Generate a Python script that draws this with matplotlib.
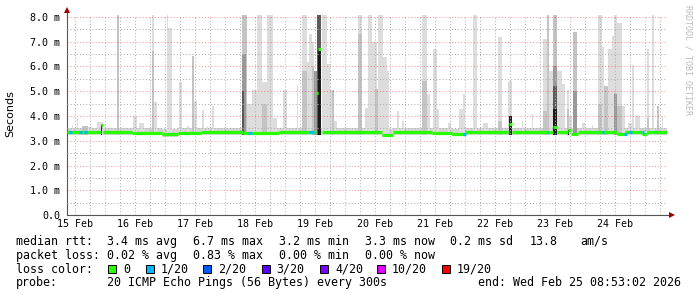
import numpy as np
import matplotlib
matplotlib.use("Agg")
import matplotlib.pyplot as plt
from matplotlib.patches import Rectangle

W, H = 697, 297

# ---- data (x = day of February, y = ms) ----
t_start = 15.3702
t_end = 25.3702

day_ticks = [15, 16, 17, 18, 19, 20, 21, 22, 23, 24]
day_labels = ["15 Feb", "16 Feb", "17 Feb", "18 Feb", "19 Feb",
              "20 Feb", "21 Feb", "22 Feb", "23 Feb", "24 Feb"]
y_ticks = [0, 1, 2, 3, 4, 5, 6, 7, 8]
y_labels = ["0.0", "1.0 m", "2.0 m", "3.0 m", "4.0 m",
            "5.0 m", "6.0 m", "7.0 m", "8.0 m"]

# smoke spikes: (start day, end day, top ms), one list per grey shade
smoke_light = [
    (15.448, 15.476, 3.62), (15.531, 15.559, 3.88), (15.726, 15.781, 3.55),
    (15.865, 15.976, 3.75), (16.476, 16.531, 3.99), (16.570, 16.654, 3.70),
    (16.781, 16.826, 8.10), (16.826, 16.876, 4.55), (17.031, 17.059, 8.10),
    (17.059, 17.115, 7.56), (17.237, 17.281, 5.37), (17.376, 17.409, 3.60),
    (17.487, 17.531, 4.62), (17.615, 17.648, 4.26), (17.698, 17.726, 3.60),
    (17.781, 17.820, 4.42), (18.376, 18.448, 4.50), (18.448, 18.531, 5.05),
    (18.531, 18.615, 8.10), (18.615, 18.698, 5.37), (18.698, 18.809, 8.10),
    (18.809, 18.865, 3.90), (18.976, 19.031, 5.05), (19.198, 19.226, 5.20),
    (19.281, 19.365, 8.10), (19.365, 19.404, 6.20), (19.404, 19.448, 7.30),
    (19.448, 19.493, 6.97), (19.615, 19.698, 8.10), (19.698, 19.754, 6.10),
    (19.754, 19.815, 5.05), (19.815, 19.865, 3.80), (20.226, 20.281, 8.10),
    (20.337, 20.381, 4.32), (20.381, 20.448, 8.10), (20.448, 20.531, 7.00),
    (20.559, 20.643, 8.10), (20.643, 20.698, 6.40), (20.698, 20.737, 5.80),
    (20.865, 20.904, 4.20), (20.959, 20.993, 3.80), (21.281, 21.365, 8.10),
    (21.365, 21.420, 4.90), (21.476, 21.531, 6.70), (21.531, 21.570, 4.30),
    (21.726, 21.770, 3.70), (21.909, 21.965, 4.30), (21.965, 22.004, 4.90),
    (22.143, 22.198, 8.10), (22.309, 22.392, 3.70), (22.559, 22.615, 7.20),
    (22.726, 22.781, 5.40), (22.948, 22.976, 3.80), (23.115, 23.143, 4.10),
    (23.309, 23.365, 7.10), (23.409, 23.476, 5.80), (23.531, 23.615, 5.80),
    (23.615, 23.670, 5.30), (23.698, 23.737, 5.05), (23.737, 23.781, 4.00),
    (23.948, 24.004, 3.70), (24.115, 24.143, 3.65), (24.226, 24.281, 8.10),
    (24.281, 24.326, 6.80), (24.326, 24.381, 5.20), (24.392, 24.448, 6.70),
    (24.448, 24.487, 7.24), (24.487, 24.531, 8.10), (24.531, 24.615, 7.76),
    (24.615, 24.670, 4.40), (24.726, 24.781, 3.70), (24.781, 24.815, 6.07),
    (24.837, 24.920, 4.00), (25.031, 25.070, 6.70), (25.115, 25.159, 8.10),
    (25.281, 25.309, 4.00),
]
smoke_mid = [
    (15.615, 15.715, 3.60), (16.198, 16.237, 8.10), (16.781, 16.826, 6.64),
    (17.448, 17.487, 6.44), (18.281, 18.376, 8.10), (18.615, 18.698, 4.50),
    (19.281, 19.365, 5.80), (19.448, 19.493, 6.00), (19.782, 19.815, 5.05),
    (20.226, 20.281, 7.30), (20.504, 20.559, 5.10), (21.281, 21.365, 5.40),
    (22.559, 22.615, 3.80), (23.309, 23.365, 4.20), (23.365, 23.409, 8.10),
    (23.476, 23.531, 8.10), (23.698, 23.737, 4.30), (23.809, 23.865, 7.40),
    (24.226, 24.281, 4.50), (24.326, 24.381, 5.20), (24.531, 24.615, 4.40),
    (25.031, 25.070, 3.90), (25.198, 25.237, 4.40),
]
smoke_dark = [
    (18.281, 18.348, 6.50), (19.493, 19.531, 5.80), (23.476, 23.531, 6.00),
    (23.809, 23.865, 5.00), (24.487, 24.531, 4.90),
]
smoke_darker = [
    (18.281, 18.320, 5.00), (19.531, 19.604, 8.10), (23.476, 23.531, 5.20),
]
smoke_core = [
    (15.937, 15.948, 3.62), (19.559, 19.604, 6.70), (22.743, 22.781, 4.00),
    (23.476, 23.531, 4.30), (23.726, 23.737, 3.45),
]

# thin smoke band around the median
band_t = [15.370, 16.948, 17.226, 20.615, 20.808, 21.781, 22.004, 25.370]
band_lo = [3.22, 3.17, 3.22, 3.15, 3.22, 3.18, 3.22, 3.22]
band_hi = [3.52, 3.48, 3.50, 3.46, 3.50, 3.46, 3.50, 3.50]

# median rtt (step values, nan = no data)
med_t = [15.370, 15.937, 15.976, 16.450, 16.948, 17.226, 17.600, 18.300,
         18.900, 19.520, 19.559, 19.604, 19.620, 20.615, 20.808, 21.450,
         21.781, 22.004, 22.737, 22.781, 23.476, 23.531, 23.726, 23.770,
         23.890, 24.531, 24.670, 24.950, 25.031, 25.370]
med_v = [3.36, 3.62, 3.34, 3.33, 3.26, 3.33, 3.34, 3.33,
         3.34, 4.93, 6.72, np.nan, 3.34, 3.25, 3.34, 3.33,
         3.27, 3.34, 3.68, 3.34, 3.55, 3.34, 3.44, 3.29,
         3.34, 3.28, 3.34, 3.28, 3.34, 3.34]

# intervals with 1/20 packet loss
loss1_t0 = [15.404, 15.570, 15.654, 18.393, 19.409, 21.976,
            23.365, 24.293, 24.659, 24.737, 24.948]
loss1_t1 = [15.448, 15.615, 15.698, 18.448, 19.487, 22.020,
            23.392, 24.326, 24.698, 24.781, 24.993]

loss_labels = ["0", "1/20", "2/20", "3/20", "4/20", "10/20", "19/20"]
loss_colors = ["#26ff00", "#00b8ff", "#0059ff", "#5e00ff",
               "#7e00ff", "#dd00ff", "#ff0000"]

rtt_stats = ["3.4 ms avg", "6.7 ms max", "3.2 ms min", "3.3 ms now",
             "0.2 ms sd", "13.8", "am/s"]
pl_stats = ["0.02 % avg", "0.83 % max", "0.00 % min", "0.00 % now"]
probe_text = "20 ICMP Echo Pings (56 Bytes) every 300s"
end_text = "end: Wed Feb 25 08:53:02 2026"

# ---- drawing ----
MONO = "DejaVu Sans Mono"


def px(x, y):
    return x / W, 1 - y / H


fig = plt.figure(figsize=(W / 100, H / 100), dpi=100)
fig.patch.set_facecolor("white")
ax = fig.add_axes([67 / W, (H - 215) / H, 600 / W, 200 / H])
ax.set_xlim(t_start, t_end)
ax.set_ylim(0, 200 / 24.75)

ax.fill_between(band_t, band_lo, band_hi, step="post",
                color="#d4d4d4", lw=0, zorder=1)

base = 3.25
for spikes, col in [(smoke_light, "#dddddd"), (smoke_mid, "#c4c4c4"),
                    (smoke_dark, "#999999"), (smoke_darker, "#5a5a5a"),
                    (smoke_core, "#1a1a1a")]:
    s = np.array(spikes)
    ax.bar(s[:, 0], s[:, 2] - base, width=s[:, 1] - s[:, 0], bottom=base,
           align="edge", color=col, lw=0, zorder=2)

# grid
for d in np.arange(15.25, t_end, 0.25):
    if d < t_start:
        continue
    if abs(d - round(d)) < 1e-6:
        ax.axvline(d, color="#ff0000", alpha=0.4, lw=0.75,
                   ls=(0, (1, 2)), zorder=3)
    else:
        ax.axvline(d, color="#b0b0b0", lw=0.75, ls=(0, (1, 2)), zorder=3)
for v in np.arange(0.5, 8.1, 0.5):
    if abs(v - round(v)) < 1e-6:
        ax.axhline(v, color="#ff0000", alpha=0.4, lw=0.75,
                   ls=(0, (1, 2)), zorder=3)
    else:
        ax.axhline(v, color="#b0b0b0", lw=0.75, ls=(0, (1, 2)), zorder=3)

# median line, coloured by loss
mt = np.array(med_t)
mv = np.array(med_v)
ax.hlines(mv[:-1], mt[:-1], mt[1:], color=loss_colors[0], lw=2.3, zorder=4)
for a, b in zip(loss1_t0, loss1_t1):
    v = mv[np.searchsorted(mt, a, side="right") - 1]
    ax.hlines(v, a, b, color=loss_colors[1], lw=2.3, zorder=5)

# axes look
for s in ["top", "right"]:
    ax.spines[s].set_visible(False)
for s in ["left", "bottom"]:
    ax.spines[s].set_color("#555555")
    ax.spines[s].set_linewidth(0.8)
ax.plot([0, 0], [1, 1.025], color="#555555", lw=0.8,
        transform=ax.transAxes, clip_on=False)
ax.plot([1, 1.008], [0, 0], color="#555555", lw=0.8,
        transform=ax.transAxes, clip_on=False)
ax.plot([0], [1.025], marker="^", ms=4, color="#a00000", mew=0,
        transform=ax.transAxes, clip_on=False)
ax.plot([1.008], [0], marker=">", ms=4, color="#a00000", mew=0,
        transform=ax.transAxes, clip_on=False)

ax.set_xticks([d + 0.5 for d in day_ticks], day_labels)
ax.set_yticks(y_ticks, y_labels)
ax.tick_params(length=0, labelsize=7.2)
ax.tick_params(axis="x", pad=3)
ax.tick_params(axis="y", pad=5)
for lab in ax.get_xticklabels() + ax.get_yticklabels():
    lab.set_family(MONO)

fig.text(*px(10, 114), "Seconds", rotation=90, ha="center", va="center",
         family="DejaVu Sans", fontsize=8)
fig.text(*px(688, 5), "RRDTOOL / TOBI OETIKER", rotation=270,
         ha="center", va="top", family=MONO, fontsize=6, color="#bbbbbb")

# legend block
fs = 8.4
y1, y2, y3, y4 = 245, 258.8, 272.6, 286.4
fig.text(*px(16, y1), "median rtt:", family=MONO, fontsize=fs, va="baseline")
for x, s in zip([107, 193, 279, 365, 450, 530, 580], rtt_stats):
    fig.text(*px(x, y1), s, family=MONO, fontsize=fs, va="baseline")
fig.text(*px(16, y2), "packet loss:", family=MONO, fontsize=fs, va="baseline")
for x, s in zip([107, 193, 279, 365], pl_stats):
    fig.text(*px(x, y2), s, family=MONO, fontsize=fs, va="baseline")
fig.text(*px(16, y3), "loss color:", family=MONO, fontsize=fs, va="baseline")
box_x = [108, 145.7, 203.3, 261.7, 320, 376.7, 441.7]
for x, lab, col in zip(box_x, loss_labels, loss_colors):
    fig.add_artist(Rectangle(px(x, y3 + 0.5), 8 / W, 8 / H,
                             transform=fig.transFigure, facecolor=col,
                             edgecolor="black", lw=0.7))
    fig.text(*px(x + 15, y3), lab, family=MONO, fontsize=fs, va="baseline")
fig.text(*px(16, y4), "probe:", family=MONO, fontsize=fs, va="baseline")
fig.text(*px(107, y4), probe_text, family=MONO, fontsize=fs, va="baseline")
fig.text(*px(478, y4), end_text, family=MONO, fontsize=fs, va="baseline")

fig.savefig("out.png", dpi=100, facecolor="white")
